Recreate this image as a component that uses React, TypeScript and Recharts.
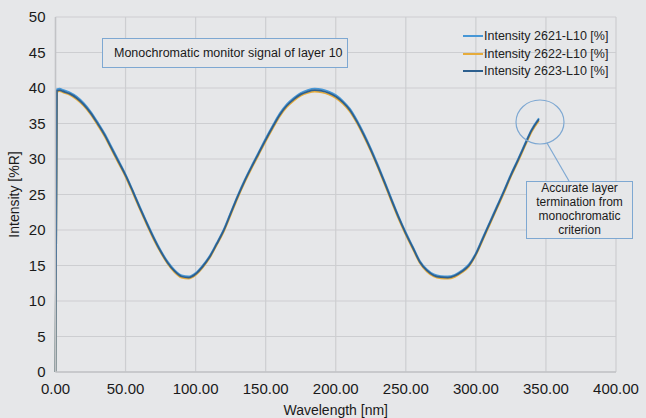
import React from "react";
import {
  CartesianGrid,
  Line,
  LineChart,
  XAxis,
  YAxis,
} from "recharts";

const wavelength = [
  0, 1, 3, 5, 10, 15, 20, 25, 30, 35, 40, 45, 50, 55, 60, 65, 70, 75, 80, 85, 90,
  95, 100, 105, 110, 115, 120, 125, 130, 135, 140, 145, 150, 155, 160, 165, 170,
  175, 180, 185, 190, 195, 200, 205, 210, 215, 220, 225, 230, 235, 240, 245, 250,
  255, 260, 265, 270, 275, 280, 285, 290, 295, 300, 305, 310, 315, 320, 325, 330,
  335, 340, 345,
];

const intensity2621 = [
  0, 39.8, 39.9, 39.75, 39.4, 38.8, 37.9, 36.7, 35.2, 33.6,
  31.7, 29.8, 27.85, 25.65, 23.35, 21.15, 19.05, 17.15, 15.55, 14.35,
  13.6, 13.45, 13.95, 15.0, 16.35, 18.15, 20.05, 22.45, 24.85, 27.05,
  29.05, 30.95, 32.9, 34.7, 36.4, 37.7, 38.6, 39.3, 39.7, 39.9,
  39.8, 39.5, 39.0, 38.2, 37.1, 35.5, 33.6, 31.5, 29.2, 26.8,
  24.3, 21.85, 19.65, 17.65, 15.65, 14.45, 13.75, 13.5, 13.45, 13.7,
  14.3, 15.15, 16.75, 18.95, 21.15, 23.35, 25.55, 27.85, 29.95, 32.15,
  34.25, 35.75,
];

const intensity2622 = [
  0, 39.45, 39.55, 39.4, 39.05, 38.4, 37.5, 36.3, 34.8, 33.2,
  31.3, 29.4, 27.5, 25.3, 23.0, 20.8, 18.7, 16.85, 15.25, 14.05,
  13.3, 13.15, 13.65, 14.7, 16.05, 17.85, 19.75, 22.1, 24.5, 26.7,
  28.7, 30.6, 32.5, 34.3, 36.0, 37.3, 38.2, 38.9, 39.3, 39.5,
  39.4, 39.1, 38.6, 37.8, 36.7, 35.1, 33.2, 31.1, 28.8, 26.4,
  23.9, 21.5, 19.3, 17.3, 15.35, 14.15, 13.45, 13.2, 13.15, 13.4,
  14.0, 14.85, 16.45, 18.6, 20.8, 23.0, 25.2, 27.5, 29.6, 31.8,
  33.9, 35.4,
];

const intensity2623 = [
  0, 39.6, 39.7, 39.55, 39.2, 38.6, 37.7, 36.5, 35.0, 33.4,
  31.5, 29.6, 27.7, 25.5, 23.2, 21.0, 18.9, 17.0, 15.4, 14.2,
  13.45, 13.3, 13.8, 14.85, 16.2, 18.0, 19.9, 22.3, 24.7, 26.9,
  28.9, 30.8, 32.7, 34.5, 36.2, 37.5, 38.4, 39.1, 39.5, 39.7,
  39.6, 39.3, 38.8, 38.0, 36.9, 35.3, 33.4, 31.3, 29.0, 26.6,
  24.1, 21.7, 19.5, 17.5, 15.5, 14.3, 13.6, 13.35, 13.3, 13.55,
  14.15, 15.0, 16.6, 18.8, 21.0, 23.2, 25.4, 27.7, 29.8, 32.0,
  34.1, 35.6,
];

const xTicks = [0, 50, 100, 150, 200, 250, 300, 350, 400];
const yTicks = [0, 5, 10, 15, 20, 25, 30, 35, 40, 45, 50];

const series = [
  { key: "a", name: "Intensity 2621-L10 [%]", color: "#4797d6" },
  { key: "b", name: "Intensity 2622-L10 [%]", color: "#e6ab3a" },
  { key: "c", name: "Intensity 2623-L10 [%]", color: "#2d5f8e" },
];

const data = wavelength.map((x, i) => ({
  x,
  a: intensity2621[i],
  b: intensity2622[i],
  c: intensity2623[i],
}));

const FONT = "'Liberation Sans', Arial, Helvetica, sans-serif";
const BG = "#e6e7e9";
const GRID = "#cdced1";
const BOX = "#7ea8d2";

export default function App() {
  return (
    <div
      style={{
        position: "absolute",
        left: 0,
        top: 0,
        width: 646,
        height: 418,
        background: BG,
        fontFamily: FONT,
      }}
    >
      <LineChart
        width={646}
        height={418}
        data={data}
        margin={{ top: 17, right: 30, bottom: 0, left: 15.5 }}
      >
        <CartesianGrid stroke={GRID} strokeWidth={1.2} />
        <XAxis
          dataKey="x"
          type="number"
          domain={[0, 400]}
          ticks={xTicks}
          tickFormatter={(v) => Number(v).toFixed(2)}
          tick={{ fill: "#1a1a1a", fontSize: 15, fontFamily: FONT }}
          tickLine={false}
          tickMargin={5}
          axisLine={{ stroke: "#c2c3c6", strokeWidth: 1.5 }}
          height={46}
          label={{
            value: "Wavelength [nm]",
            position: "insideBottom",
            offset: 3,
            fill: "#1a1a1a",
            fontSize: 14,
            fontFamily: FONT,
          }}
        />
        <YAxis
          type="number"
          domain={[0, 50]}
          ticks={yTicks}
          tick={{ fill: "#1a1a1a", fontSize: 15, fontFamily: FONT }}
          tickLine={false}
          tickMargin={4}
          axisLine={{ stroke: "#c2c3c6", strokeWidth: 1.5 }}
          width={40}
          label={{
            value: "Intensity [%R]",
            angle: -90,
            position: "center",
            dx: -21,
            fill: "#1a1a1a",
            fontSize: 14,
            fontFamily: FONT,
          }}
        />
        {series.map((s) => (
          <Line
            key={s.key}
            dataKey={s.key}
            name={s.name}
            type="monotone"
            stroke={s.color}
            strokeWidth={1.8}
            dot={false}
            isAnimationActive={false}
          />
        ))}
      </LineChart>

      {/* legend */}
      <div
        style={{
          position: "absolute",
          left: 463,
          top: 27,
          fontSize: 12.5,
          color: "#222",
        }}
      >
        {series.map((s) => (
          <div key={s.key} style={{ display: "flex", alignItems: "center", height: 17.7 }}>
            <span style={{ display: "inline-block", width: 20, height: 2, background: s.color }} />
            <span style={{ marginLeft: 1 }}>{s.name}</span>
          </div>
        ))}
      </div>

      <div
        style={{
          position: "absolute",
          left: 102,
          top: 38,
          width: 246,
          height: 30,
          boxSizing: "border-box",
          border: `1px solid ${BOX}`,
          background: BG,
          fontSize: 12.5,
          color: "#1a1a1a",
          display: "flex",
          alignItems: "center",
          paddingLeft: 11,
        }}
      >
        Monochromatic monitor signal of layer 10
      </div>

      <svg
        width={646}
        height={418}
        style={{ position: "absolute", left: 0, top: 0, pointerEvents: "none" }}
      >
        <ellipse cx={540} cy={122} rx={24} ry={22} fill="none" stroke={BOX} strokeWidth={1.2} />
        <line x1={547} y1={143} x2={569} y2={181} stroke={BOX} strokeWidth={1.2} />
      </svg>

      <div
        style={{
          position: "absolute",
          left: 526,
          top: 181,
          width: 107,
          height: 58,
          boxSizing: "border-box",
          border: `1px solid ${BOX}`,
          background: BG,
          fontSize: 12,
          lineHeight: "13.8px",
          color: "#1a1a1a",
          textAlign: "center",
          display: "flex",
          alignItems: "center",
          justifyContent: "center",
        }}
      >
        <div>
          Accurate layer
          <br />
          termination from
          <br />
          monochromatic
          <br />
          criterion
        </div>
      </div>
    </div>
  );
}
